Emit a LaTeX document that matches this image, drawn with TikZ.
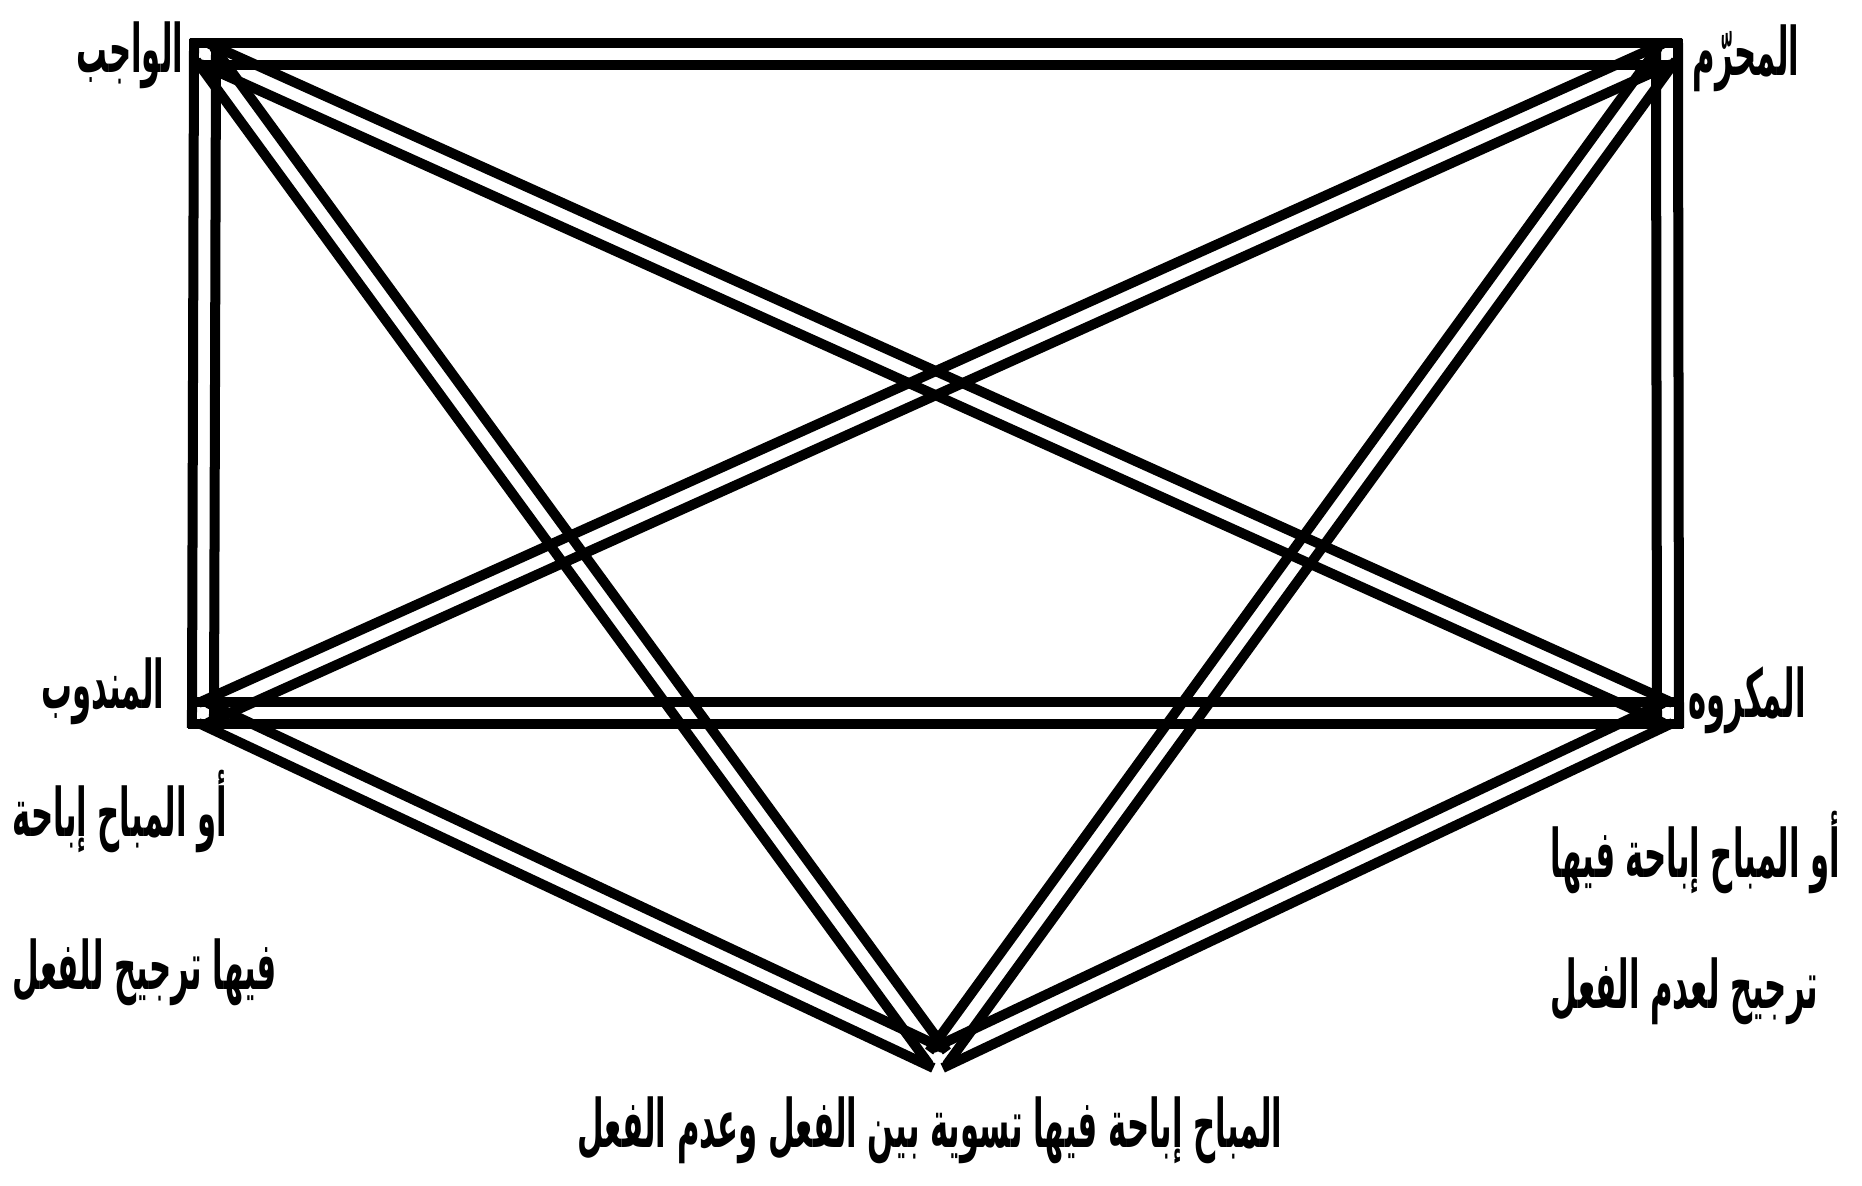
\documentclass[tikz,border=0pt]{standalone}
\usepackage{fontspec}
\newfontfamily\arabicfont[Script=Arabic]{DejaVu Sans}
\TeXXeTstate=1
\usetikzlibrary{calc}
% one line of Arabic, narrowed like the printed face
\newcommand{\arline}[1]{\scalebox{0.46}[1]{\beginR #1\endR}}

\begin{document}
\begin{tikzpicture}[x=0.01cm,y=-0.01cm,
    rule/.style={line width=0.1cm,line cap=butt},
    siderule/.style={rule,shorten <=-0.15cm,shorten >=-0.15cm},
    arlabel/.style={font=\arabicfont\bfseries\fontsize{19}{23}\selectfont,inner sep=0pt}]
  \useasboundingbox (0,0) rectangle (1862,1186);
  % corners of the square and the lower point
  \coordinate (wajib) at (205,54);
  \coordinate (muharram) at (1667,54);
  \coordinate (mandub) at (203,713);
  \coordinate (makruh) at (1668,713);
  \coordinate (mubah) at (938,1058);
  % sides of the square as twin lines
  \foreach \a/\b in {wajib/muharram,mandub/makruh,wajib/mandub,muharram/makruh}{
    \draw[siderule] ($(\a)!0.11cm!90:(\b)$) -- ($(\b)!0.11cm!-90:(\a)$);
    \draw[siderule] ($(\a)!0.11cm!-90:(\b)$) -- ($(\b)!0.11cm!90:(\a)$);
  }
  % the other relations as twin lines
  \foreach \a/\b in {wajib/makruh,muharram/mandub,wajib/mubah,muharram/mubah,
      mandub/mubah,makruh/mubah}{
    \draw[rule] ($(\a)!0.11cm!90:(\b)$) -- ($(\b)!0.11cm!-90:(\a)$);
    \draw[rule] ($(\a)!0.11cm!-90:(\b)$) -- ($(\b)!0.11cm!90:(\a)$);
  }
  % labels
  \node[arlabel,anchor=east] (lblwajib) at (184,55) {\arline{الواجب}};
  \node[arlabel,anchor=west] (lblmuharram) at (1692,58) {\arline{المحرّم}};
  \node[arlabel] (lblmandub) at (103,691) {\arline{المندوب}};
  \node[arlabel,align=left,anchor=west] (lblmandubx) at (12,888)
    {\arline{أو المباح إباحة}\\[0.72cm]\arline{فيها ترجيح للفعل}};
  \node[arlabel,anchor=west] (lblmakruh) at (1688,700) {\arline{المكروه}};
  \node[arlabel,align=left,anchor=west] (lblmakruhx) at (1550,918)
    {\arline{أو المباح إباحة فيها}\\[0.5cm]\arline{ترجيح لعدم الفعل}};
  \node[arlabel] (lblmubah) at (930,1130) {\arline{المباح إباحة فيها تسوية بين الفعل وعدم الفعل}};
\end{tikzpicture}
\end{document}
